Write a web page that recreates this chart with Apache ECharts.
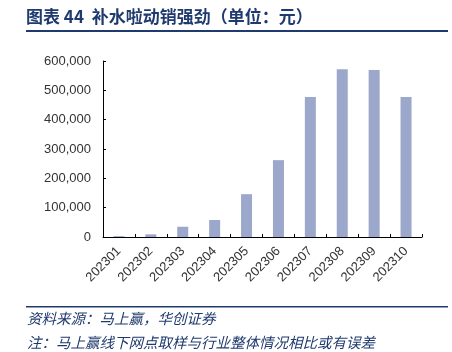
<!DOCTYPE html>
<html><head><meta charset="utf-8">
<script src="https://cdn.jsdelivr.net/npm/echarts@6/dist/echarts.min.js"></script>
<style>html,body{margin:0;padding:0;background:#fff}#c{width:452px;height:352px}</style>
</head><body><div id="c"></div>
<script>
var titleText = '图表 44  补水啦动销强劲（单位：元）';
var sourceText = '资料来源：马上赢，华创证券';
var noteText = '注：马上赢线下网点取样与行业整体情况相比或有误差';
var categories = ['202301','202302','202303','202304','202305','202306','202307','202308','202309','202310'];
var values = [3000, 9000, 35000, 58000, 146000, 262000, 477000, 572000, 569000, 477000];
var yMin = 0, yMax = 600000, yInterval = 100000;

var chart = echarts.init(document.getElementById('c'), null, {renderer:'canvas'});
var navy = '#1F3A6E';
chart.setOption({
  animation: false,
  backgroundColor: '#fff',
  grid: {left: 103, right: 30, top: 61, bottom: 115, containLabel: false},
  xAxis: {
    type: 'category', data: categories, boundaryGap: true,
    axisLine: {lineStyle: {color: '#000', width: 1}},
    axisTick: {show: true, inside: true, length: 3, lineStyle: {color: '#000'}},
    axisLabel: {rotate: 45, fontSize: 13, color: '#333', fontFamily: 'Liberation Sans, Arial', margin: 12, interval: 0}
  },
  yAxis: {
    type: 'value', min: yMin, max: yMax, interval: yInterval,
    axisLine: {show: true, lineStyle: {color: '#000', width: 1}},
    axisTick: {show: true, inside: true, length: 3, lineStyle: {color: '#000'}},
    splitLine: {show: false},
    axisLabel: {fontSize: 13, color: '#333', fontFamily: 'Liberation Sans, Arial', margin: 12,
      formatter: function(v){ return v.toLocaleString('en-US'); }}
  },
  series: [{
    type: 'bar', data: values, barWidth: 11,
    itemStyle: {color: '#9BA8CB'}
  }],
  graphic: [
    {type: 'text', left: 26, top: 8, style: {text: titleText, fill: navy, font: 'bold 17px "Noto Sans CJK SC", sans-serif'}},
    {type: 'rect', shape: {x: 26, y: 30, width: 422, height: 2}, style: {fill: navy}},
    {type: 'rect', shape: {x: 26, y: 306, width: 422, height: 1.5}, style: {fill: navy}},
    {type: 'text', left: 27, top: 311, style: {text: sourceText, fill: navy, font: 'italic 14.5px "Noto Sans CJK SC", sans-serif'}},
    {type: 'text', left: 27, top: 335, style: {text: noteText, fill: navy, font: 'italic 14.5px "Noto Sans CJK SC", sans-serif'}}
  ]
});
</script></body></html>
